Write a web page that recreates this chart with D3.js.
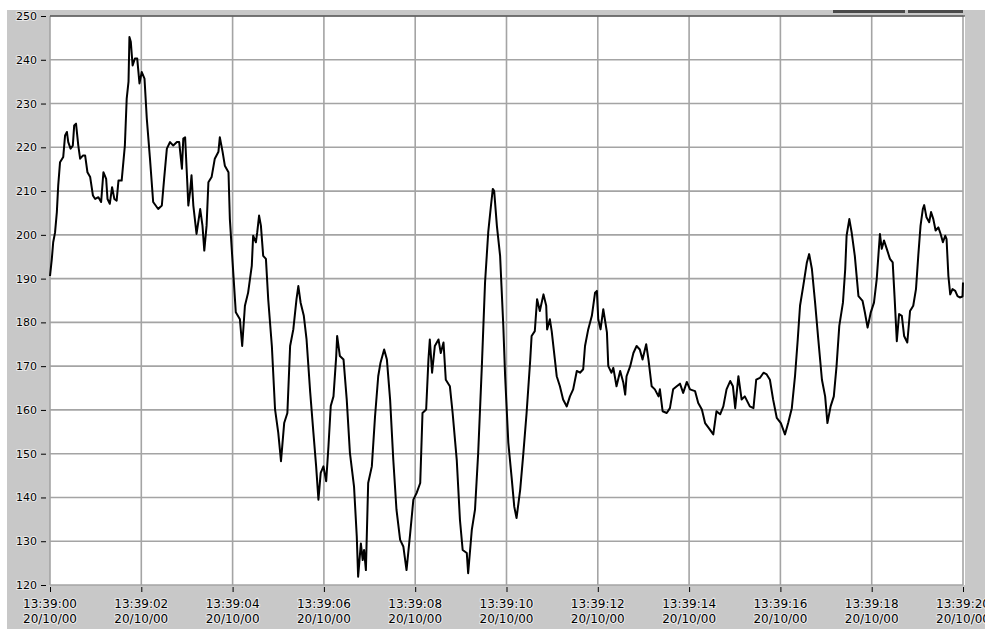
<!DOCTYPE html>
<html>
<head>
<meta charset="utf-8">
<script src="https://cdn.jsdelivr.net/npm/d3@7"></script>
<style>
body { margin: 0; background: #fff; overflow: hidden; }
.axisText { font-family: "DejaVu Sans", Verdana, sans-serif; fill: #000; }
</style>
</head>
<body>
<div class="chart"></div>
<script>
// seconds after 13:39:00
var secs = [0.00,0.04,0.07,0.11,0.15,0.18,0.22,0.29,0.33,0.37,
0.40,0.45,0.50,0.53,0.57,0.62,0.66,0.72,0.77,0.82,
0.88,0.94,0.99,1.06,1.12,1.17,1.23,1.26,1.31,1.36,
1.41,1.46,1.50,1.57,1.64,1.68,1.72,1.74,1.77,1.81,
1.86,1.91,1.96,2.01,2.07,2.12,2.19,2.26,2.37,2.45,
2.50,2.56,2.63,2.70,2.78,2.83,2.89,2.92,2.96,3.01,
3.03,3.07,3.10,3.14,3.21,3.29,3.34,3.38,3.43,3.47,
3.54,3.61,3.69,3.72,3.78,3.83,3.91,3.94,4.00,4.07,
4.16,4.21,4.27,4.34,4.42,4.45,4.51,4.54,4.58,4.62,
4.67,4.73,4.78,4.86,4.93,5.00,5.06,5.13,5.20,5.26,
5.33,5.40,5.44,5.49,5.56,5.62,5.70,5.77,5.83,5.88,
5.93,5.99,6.05,6.10,6.15,6.21,6.27,6.29,6.35,6.43,
6.50,6.57,6.66,6.72,6.75,6.81,6.85,6.88,6.92,6.97,
7.05,7.12,7.19,7.24,7.32,7.38,7.45,7.52,7.59,7.67,
7.74,7.81,7.89,7.96,8.03,8.11,8.16,8.24,8.29,8.32,
8.37,8.43,8.51,8.56,8.62,8.67,8.76,8.82,8.91,8.98,
9.04,9.13,9.16,9.24,9.31,9.38,9.46,9.53,9.60,9.66,
9.70,9.73,9.79,9.86,9.89,9.93,9.97,10.04,10.11,10.17,
10.22,10.30,10.37,10.44,10.52,10.55,10.62,10.67,10.73,10.81,
10.87,10.89,10.95,10.99,11.06,11.10,11.17,11.24,11.32,11.39,
11.46,11.54,11.61,11.68,11.72,11.79,11.87,11.94,11.98,12.01,
12.06,12.12,12.20,12.23,12.30,12.34,12.41,12.49,12.56,12.60,
12.63,12.71,12.78,12.85,12.92,12.98,13.06,13.11,13.18,13.25,
13.33,13.36,13.42,13.51,13.58,13.65,13.73,13.80,13.87,13.95,
14.02,14.13,14.20,14.28,14.35,14.42,14.53,14.60,14.68,14.75,
14.82,14.90,14.96,15.01,15.08,15.15,15.22,15.33,15.41,15.47,
15.55,15.63,15.70,15.77,15.84,15.92,16.01,16.10,16.17,16.25,
16.32,16.38,16.43,16.50,16.58,16.63,16.69,16.76,16.83,16.91,
16.98,17.03,17.10,17.17,17.23,17.29,17.37,17.42,17.45,17.51,
17.56,17.63,17.71,17.80,17.85,17.91,17.98,18.05,18.11,18.18,
18.22,18.27,18.33,18.40,18.46,18.50,18.55,18.60,18.66,18.71,
18.78,18.84,18.91,18.97,19.02,19.07,19.12,19.15,19.20,19.26,
19.30,19.35,19.40,19.46,19.51,19.56,19.61,19.64,19.68,19.72,
19.77,19.83,19.88,19.93,19.99,20.00];

var vals = [190.6,194.5,198.3,200.5,205.2,211.3,216.6,217.8,222.7,223.5,
221.2,219.7,220.4,225.0,225.4,220.4,217.4,218.1,218.1,214.3,
213.2,209.0,208.2,208.6,207.5,214.3,212.8,208.2,207.1,210.9,
208.2,207.8,212.4,212.4,220.4,231.1,235.0,245.2,244.1,238.7,
240.3,240.3,234.6,237.2,235.7,226.6,217.4,207.5,205.9,206.7,
212.8,219.7,221.2,220.4,221.2,221.2,215.1,222.0,222.3,211.3,
206.7,210.0,213.6,206.7,200.2,205.9,202.1,196.4,202.1,212.0,
213.2,217.4,219.0,222.3,219.0,215.8,214.3,203.6,193.7,182.3,
180.7,174.6,183.8,186.8,192.9,199.8,198.3,200.6,204.4,202.1,
195.2,194.5,185.3,174.6,160.1,154.8,148.3,157.0,159.3,174.6,
178.4,185.3,188.3,184.5,181.5,176.1,164.0,154.8,147.1,139.5,
145.6,147.1,143.7,151.7,160.9,163.1,172.3,176.9,172.3,171.5,
162.4,150.2,142.5,131.1,121.9,129.5,125.7,128.0,123.4,143.3,
147.1,158.5,167.7,170.8,173.8,171.5,162.4,148.6,137.2,130.3,
128.8,123.4,131.8,139.5,141.0,143.3,159.3,160.1,171.5,176.1,
168.5,174.6,176.1,173.0,175.4,166.9,165.4,159.3,148.6,134.9,
128.0,127.3,122.7,132.6,137.2,150.2,170.0,189.1,200.6,206.7,
210.5,210.0,202.0,195.2,188.3,179.2,167.7,152.5,144.8,137.9,
135.3,141.8,150.2,159.3,171.5,176.9,178.0,185.3,182.6,186.4,
183.8,178.4,180.7,178.0,171.5,167.7,165.4,162.4,160.8,163.1,
164.7,168.9,168.5,169.3,174.6,178.4,181.5,186.8,187.2,180.7,
178.4,183.0,177.7,170.0,168.5,169.6,165.4,168.9,166.2,163.5,
167.7,170.0,173.0,174.6,173.8,171.5,175.0,171.5,165.4,164.7,
163.1,164.7,159.7,159.3,160.4,164.7,165.4,166.0,163.9,166.4,
164.7,164.3,161.6,160.1,157.0,156.0,154.4,159.7,159.0,160.8,
164.7,166.6,165.4,160.4,167.7,162.4,163.1,160.8,160.4,166.9,
167.3,168.5,168.1,166.9,162.4,158.2,157.0,154.4,157.0,160.4,
167.7,176.1,183.8,188.3,193.7,195.6,192.2,184.5,176.1,166.9,
163.1,157.0,160.8,163.1,170.0,179.2,184.5,192.2,199.8,203.6,
200.6,195.2,186.0,184.9,182.3,178.8,182.3,184.5,189.9,200.2,
196.8,198.7,196.8,194.5,193.7,186.0,175.7,181.9,181.5,176.9,
175.4,182.6,183.8,187.6,195.2,202.1,205.9,206.8,204.0,202.9,
205.2,203.6,201.0,201.7,200.2,198.3,199.8,199.0,190.6,186.4,
187.6,187.2,186.0,185.7,185.9,189.1];

var yTicks = [120,130,140,150,160,170,180,190,200,210,220,230,240,250];
var timeLabels = ["13:39:00","13:39:02","13:39:04","13:39:06","13:39:08","13:39:10",
                  "13:39:12","13:39:14","13:39:16","13:39:18","13:39:20"];
var dateLabels = ["20/10/00","20/10/00","20/10/00","20/10/00","20/10/00","20/10/00",
                  "20/10/00","20/10/00","20/10/00","20/10/00","20/10/00"];

var svgWidth = 985;
var svgHeight = 629;
var margin = {top: 16, right: 22, bottom: 44, left: 50};
var width = svgWidth - margin.left - margin.right;
var height = svgHeight - margin.top - margin.bottom;

var t0 = new Date(2000, 9, 20, 13, 39, 0);
var data = d3.zip(secs, vals).map(function (d) {
    return {time: new Date(t0.getTime() + d[0] * 1000), value: d[1]};
});

var svg = d3.select(".chart")
    .append("svg")
    .attr("width", svgWidth)
    .attr("height", svgHeight);

// grey panel behind everything
svg.append("rect")
    .attr("x", 7).attr("y", 10)
    .attr("width", svgWidth - 7).attr("height", svgHeight - 10)
    .attr("fill", "#c8c8c8");

// two dark bars top right (cursor/legend stub)
svg.append("rect").attr("x", 833).attr("y", 10).attr("width", 72).attr("height", 3)
    .attr("fill", "#4a4a4a");
svg.append("rect").attr("x", 908).attr("y", 10).attr("width", 55).attr("height", 3)
    .attr("fill", "#4a4a4a");

var chartGroup = svg.append("g")
    .attr("transform", `translate(${margin.left}, ${margin.top})`);

var xTimeScale = d3.scaleTime()
    .domain([t0, new Date(t0.getTime() + 20000)])
    .range([0, width]);

var yLinearScale = d3.scaleLinear()
    .domain([120, 250])
    .range([height, 0]);

var xTicks = timeLabels.map(function (s, i) { return new Date(t0.getTime() + i * 2000); });

// white plot area
chartGroup.append("rect")
    .attr("x", 0).attr("y", 0)
    .attr("width", width + 2).attr("height", height)
    .attr("fill", "#fff");

// grid
chartGroup.selectAll(".hgrid")
    .data(yTicks)
    .enter()
    .append("line")
    .attr("x1", 0).attr("x2", width)
    .attr("y1", d => yLinearScale(d)).attr("y2", d => yLinearScale(d))
    .attr("stroke", "#a4a4a4")
    .attr("stroke-width", 1.6);

chartGroup.selectAll(".vgrid")
    .data(xTicks)
    .enter()
    .append("line")
    .attr("x1", d => xTimeScale(d)).attr("x2", d => xTimeScale(d))
    .attr("y1", 0).attr("y2", height)
    .attr("stroke", "#a4a4a4")
    .attr("stroke-width", 1.6);

// dark top frame line
chartGroup.append("line")
    .attr("x1", 0).attr("x2", width + 2)
    .attr("y1", 0).attr("y2", 0)
    .attr("stroke", "#333")
    .attr("stroke-width", 1.2);

// Axes (tick marks + labels)
var leftAxis = d3.axisLeft(yLinearScale)
    .tickValues(yTicks)
    .tickSize(5)
    .tickPadding(4)
    .tickFormat(d3.format("d"));

var bottomAxis = d3.axisBottom(xTimeScale)
    .tickValues(xTicks)
    .tickSize(5)
    .tickFormat("");

var yAxisG = chartGroup.append("g")
    .attr("transform", "translate(-4, 0)")
    .call(leftAxis);
yAxisG.select(".domain").remove();
yAxisG.selectAll("line").attr("stroke", "#000");
yAxisG.selectAll("text")
    .attr("class", "axisText")
    .style("font-size", "11px")
    .attr("stroke", "#fff")
    .attr("stroke-opacity", 0.6)
    .attr("stroke-width", 2)
    .attr("paint-order", "stroke");

var xAxisG = chartGroup.append("g")
    .attr("transform", `translate(0, ${height + 2})`)
    .call(bottomAxis);
xAxisG.select(".domain").remove();
xAxisG.selectAll("line").attr("stroke", "#000");

var xLabels = chartGroup.selectAll(".xlab")
    .data(xTicks)
    .enter()
    .append("text")
    .attr("class", "axisText")
    .attr("text-anchor", "middle")
    .attr("transform", d => `translate(${xTimeScale(d)}, ${height + 23})`)
    .style("font-size", "12px")
    .attr("stroke", "#fff")
    .attr("stroke-opacity", 0.6)
    .attr("stroke-width", 2)
    .attr("paint-order", "stroke");

xLabels.append("tspan")
    .attr("x", 0).attr("y", 0)
    .text((d, i) => timeLabels[i]);
xLabels.append("tspan")
    .attr("x", 0).attr("y", 15)
    .text((d, i) => dateLabels[i]);

// the signal
var line = d3.line()
    .x(d => xTimeScale(d.time))
    .y(d => yLinearScale(d.value));

chartGroup.append("path")
    .datum(data)
    .attr("fill", "none")
    .attr("stroke", "#000")
    .attr("stroke-width", 2)
    .attr("stroke-linejoin", "round")
    .attr("d", line);
</script>
</body>
</html>
